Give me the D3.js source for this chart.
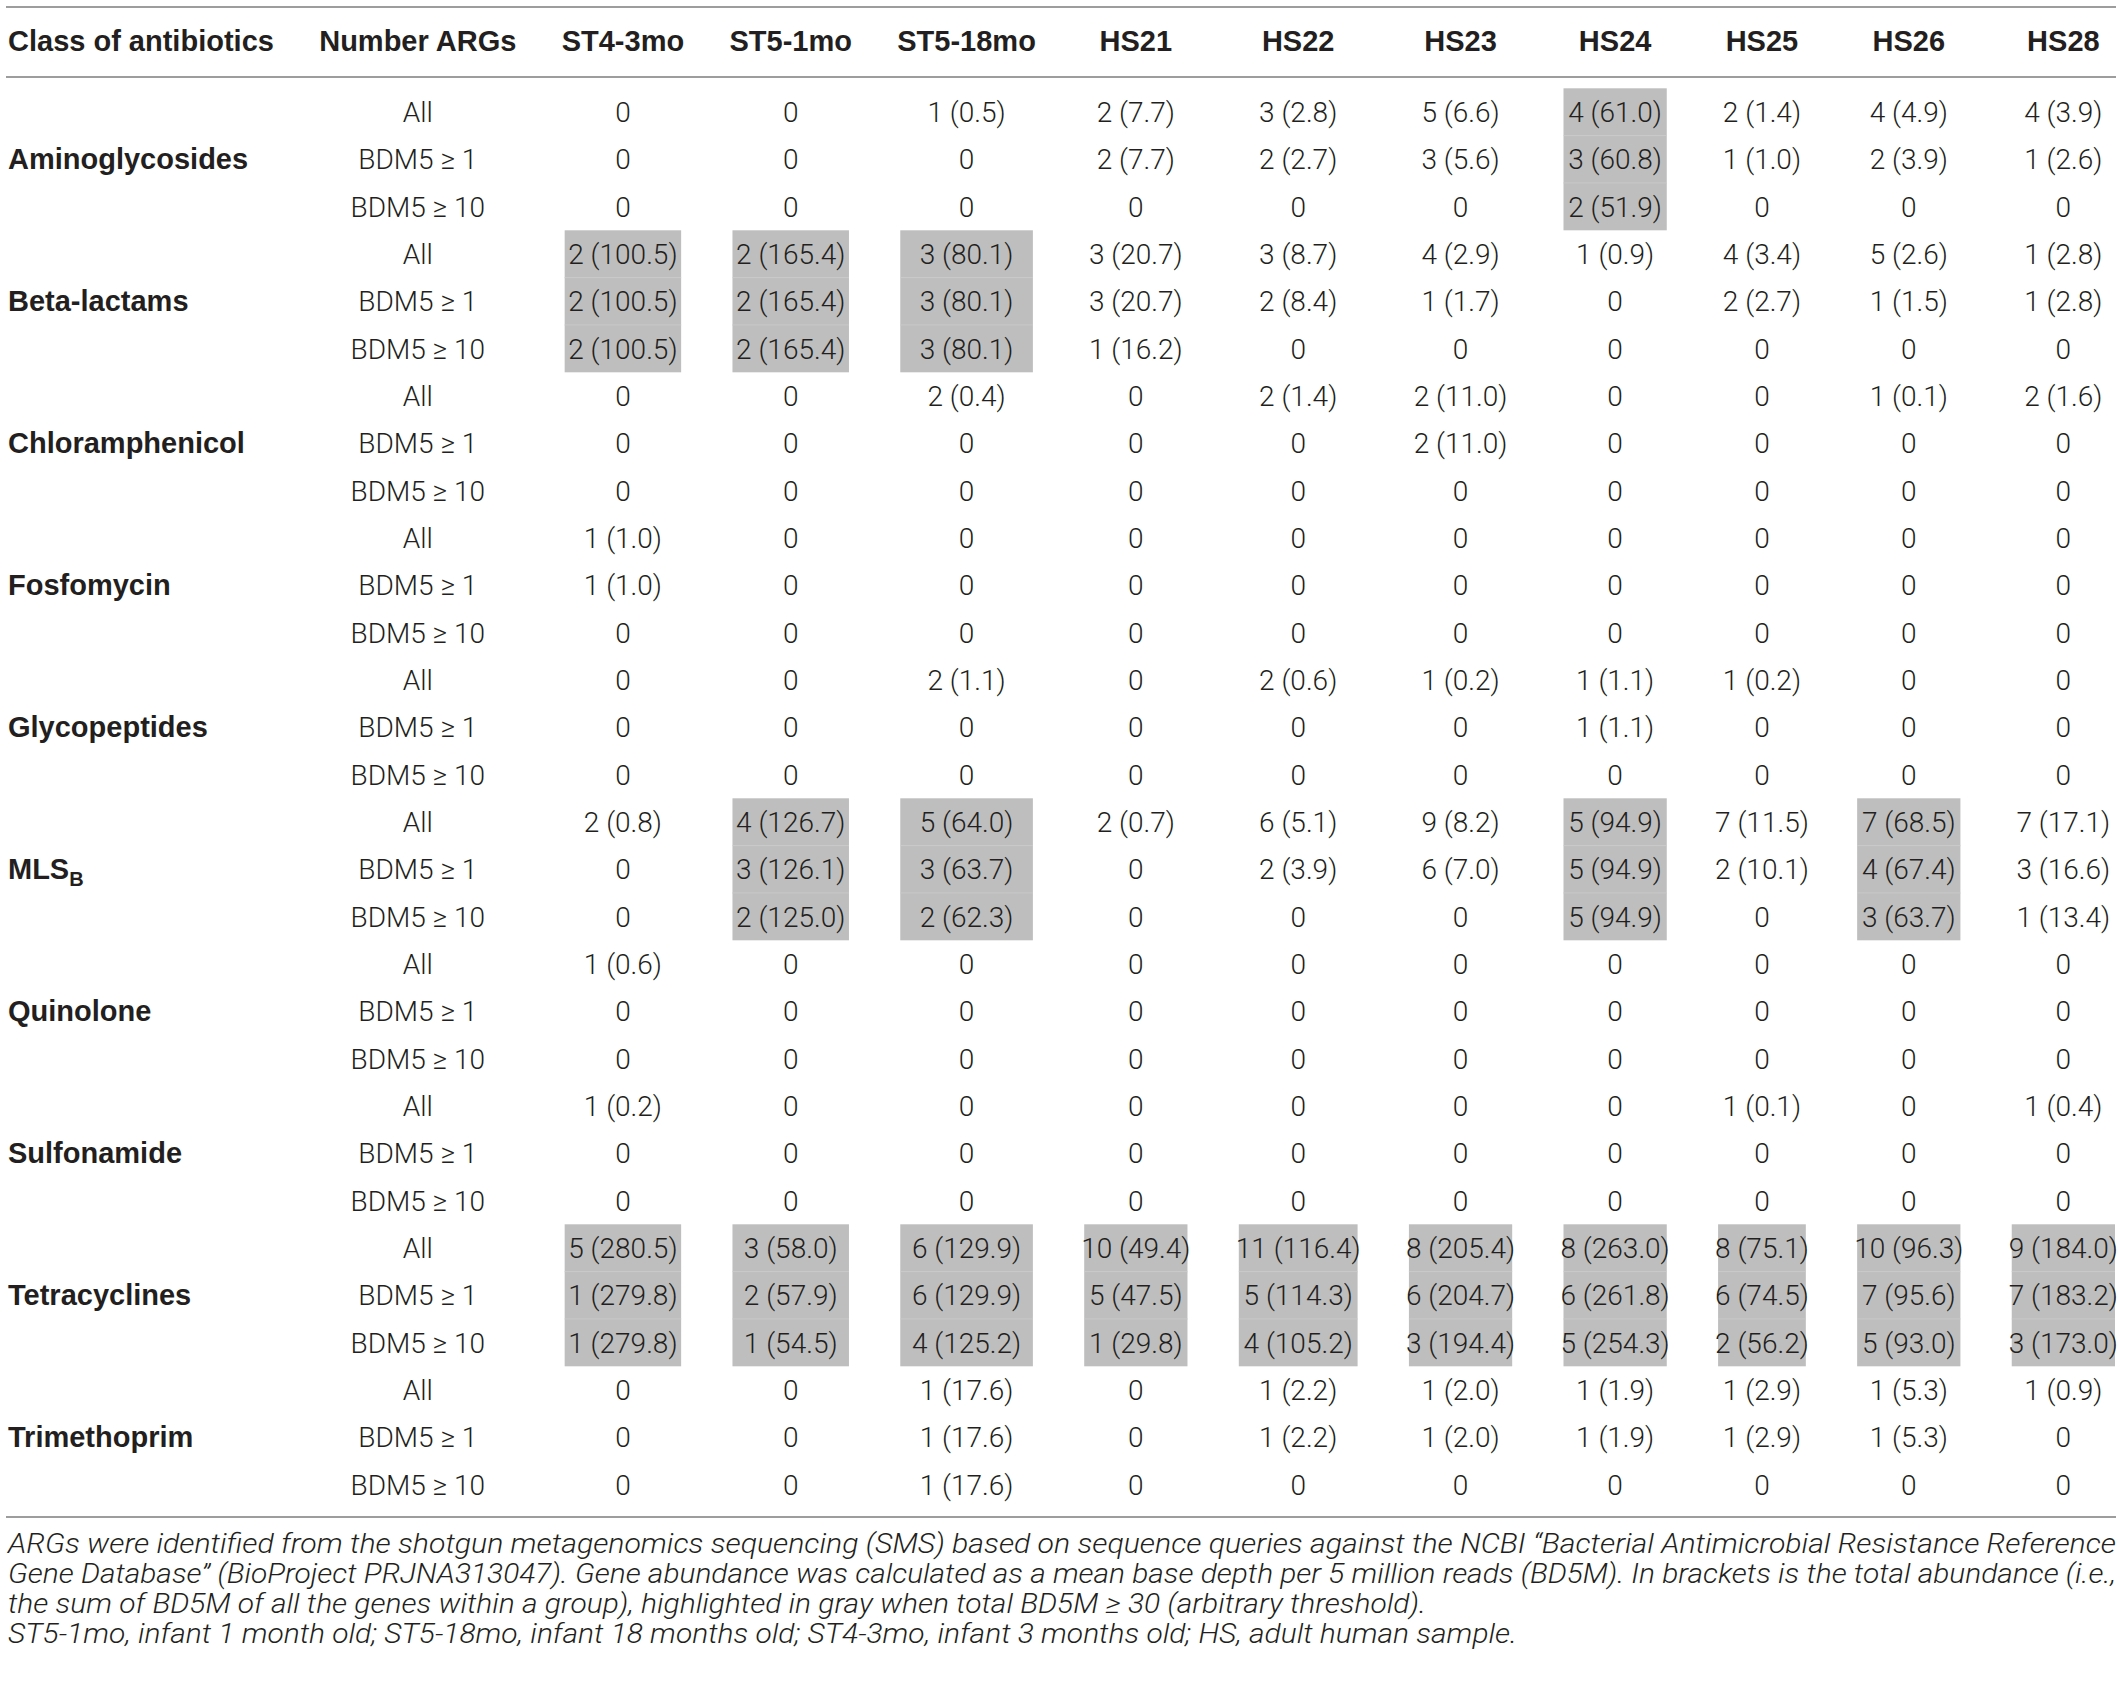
<!DOCTYPE html>
<html>
<head>
<meta charset="utf-8">
<script src="https://cdn.jsdelivr.net/npm/d3@7"></script>
<style>
  body { margin: 0; background: #fff; }
  text { fill: #231f20; }
</style>
</head>
<body>
<div id="my_table"></div>
<script>
var width = 2120,
    height = 1681;

// Data
var samples = ["ST4-3mo", "ST5-1mo", "ST5-18mo", "HS21", "HS22", "HS23", "HS24", "HS25", "HS26", "HS28"];
var classes = ["Aminoglycosides", "Beta-lactams", "Chloramphenicol", "Fosfomycin", "Glycopeptides",
               "MLS", "Quinolone", "Sulfonamide", "Tetracyclines", "Trimethoprim"];
var levels = ["All", "BDM5 \u2265 1", "BDM5 \u2265 10"];
var headers = ["Class of antibiotics", "Number ARGs"];

// number of ARGs, one row per class x level
var counts = [
  [0, 0, 1, 2, 3, 5, 4, 2, 4, 4],
  [0, 0, 0, 2, 2, 3, 3, 1, 2, 1],
  [0, 0, 0, 0, 0, 0, 2, 0, 0, 0],
  [2, 2, 3, 3, 3, 4, 1, 4, 5, 1],
  [2, 2, 3, 3, 2, 1, 0, 2, 1, 1],
  [2, 2, 3, 1, 0, 0, 0, 0, 0, 0],
  [0, 0, 2, 0, 2, 2, 0, 0, 1, 2],
  [0, 0, 0, 0, 0, 2, 0, 0, 0, 0],
  [0, 0, 0, 0, 0, 0, 0, 0, 0, 0],
  [1, 0, 0, 0, 0, 0, 0, 0, 0, 0],
  [1, 0, 0, 0, 0, 0, 0, 0, 0, 0],
  [0, 0, 0, 0, 0, 0, 0, 0, 0, 0],
  [0, 0, 2, 0, 2, 1, 1, 1, 0, 0],
  [0, 0, 0, 0, 0, 0, 1, 0, 0, 0],
  [0, 0, 0, 0, 0, 0, 0, 0, 0, 0],
  [2, 4, 5, 2, 6, 9, 5, 7, 7, 7],
  [0, 3, 3, 0, 2, 6, 5, 2, 4, 3],
  [0, 2, 2, 0, 0, 0, 5, 0, 3, 1],
  [1, 0, 0, 0, 0, 0, 0, 0, 0, 0],
  [0, 0, 0, 0, 0, 0, 0, 0, 0, 0],
  [0, 0, 0, 0, 0, 0, 0, 0, 0, 0],
  [1, 0, 0, 0, 0, 0, 0, 1, 0, 1],
  [0, 0, 0, 0, 0, 0, 0, 0, 0, 0],
  [0, 0, 0, 0, 0, 0, 0, 0, 0, 0],
  [5, 3, 6, 10, 11, 8, 8, 8, 10, 9],
  [1, 2, 6, 5, 5, 6, 6, 6, 7, 7],
  [1, 1, 4, 1, 4, 3, 5, 2, 5, 3],
  [0, 0, 1, 0, 1, 1, 1, 1, 1, 1],
  [0, 0, 1, 0, 1, 1, 1, 1, 1, 0],
  [0, 0, 1, 0, 0, 0, 0, 0, 0, 0]
];

// total abundance (BD5M) in brackets, null where no ARG
var n = null;
var abundance = [
  [n, n, 0.5, 7.7, 2.8, 6.6, 61.0, 1.4, 4.9, 3.9],
  [n, n, n, 7.7, 2.7, 5.6, 60.8, 1.0, 3.9, 2.6],
  [n, n, n, n, n, n, 51.9, n, n, n],
  [100.5, 165.4, 80.1, 20.7, 8.7, 2.9, 0.9, 3.4, 2.6, 2.8],
  [100.5, 165.4, 80.1, 20.7, 8.4, 1.7, n, 2.7, 1.5, 2.8],
  [100.5, 165.4, 80.1, 16.2, n, n, n, n, n, n],
  [n, n, 0.4, n, 1.4, 11.0, n, n, 0.1, 1.6],
  [n, n, n, n, n, 11.0, n, n, n, n],
  [n, n, n, n, n, n, n, n, n, n],
  [1.0, n, n, n, n, n, n, n, n, n],
  [1.0, n, n, n, n, n, n, n, n, n],
  [n, n, n, n, n, n, n, n, n, n],
  [n, n, 1.1, n, 0.6, 0.2, 1.1, 0.2, n, n],
  [n, n, n, n, n, n, 1.1, n, n, n],
  [n, n, n, n, n, n, n, n, n, n],
  [0.8, 126.7, 64.0, 0.7, 5.1, 8.2, 94.9, 11.5, 68.5, 17.1],
  [n, 126.1, 63.7, n, 3.9, 7.0, 94.9, 10.1, 67.4, 16.6],
  [n, 125.0, 62.3, n, n, n, 94.9, n, 63.7, 13.4],
  [0.6, n, n, n, n, n, n, n, n, n],
  [n, n, n, n, n, n, n, n, n, n],
  [n, n, n, n, n, n, n, n, n, n],
  [0.2, n, n, n, n, n, n, 0.1, n, 0.4],
  [n, n, n, n, n, n, n, n, n, n],
  [n, n, n, n, n, n, n, n, n, n],
  [280.5, 58.0, 129.9, 49.4, 116.4, 205.4, 263.0, 75.1, 96.3, 184.0],
  [279.8, 57.9, 129.9, 47.5, 114.3, 204.7, 261.8, 74.5, 95.6, 183.2],
  [279.8, 54.5, 125.2, 29.8, 105.2, 194.4, 254.3, 56.2, 93.0, 173.0],
  [n, n, 17.6, n, 2.2, 2.0, 1.9, 2.9, 5.3, 0.9],
  [n, n, 17.6, n, 2.2, 2.0, 1.9, 2.9, 5.3, n],
  [n, n, 17.6, n, n, n, n, n, n, n]
];

// sample columns shaded gray in each row
var highlighted = [
  [6], [6], [6],
  [0, 1, 2], [0, 1, 2], [0, 1, 2],
  [], [], [],
  [], [], [],
  [], [], [],
  [1, 2, 6, 8], [1, 2, 6, 8], [1, 2, 6, 8],
  [], [], [],
  [], [], [],
  [0, 1, 2, 3, 4, 5, 6, 7, 8, 9], [0, 1, 2, 3, 4, 5, 6, 7, 8, 9], [0, 1, 2, 3, 4, 5, 6, 7, 8, 9],
  [], [], []
];

var notes = [
  "ARGs were identified from the shotgun metagenomics sequencing (SMS) based on sequence queries against the NCBI \u201cBacterial Antimicrobial Resistance Reference",
  "Gene Database\u201d (BioProject PRJNA313047). Gene abundance was calculated as a mean base depth per 5 million reads (BD5M). In brackets is the total abundance (i.e.,",
  "the sum of BD5M of all the genes within a group), highlighted in gray when total BD5M \u2265 30 (arbitrary threshold).",
  "ST5-1mo, infant 1 month old; ST5-18mo, infant 18 months old; ST4-3mo, infant 3 months old; HS, adult human sample."
];

// Fonts
var bodyFont = "Roboto, 'Liberation Sans', sans-serif",
    boldFont = "'Liberation Sans', Arial, sans-serif";
var bodySize = 28,
    boldSize = 29,
    noteSize = 27;

var svg = d3.select("#my_table")
  .append("svg")
  .attr("width", width)
  .attr("height", height);

svg.append("rect").attr("width", width).attr("height", height).attr("fill", "#fff");

function cellText(r, c) {
  return counts[r][c] === 0 ? "0" : counts[r][c] + " (" + abundance[r][c].toFixed(1) + ")";
}

// measuring helper
var probe = svg.append("text").attr("visibility", "hidden");
function measure(str, bold) {
  probe.attr("font-family", bold ? boldFont : bodyFont)
    .attr("font-weight", bold ? 700 : 300)
    .attr("font-size", bold ? boldSize : bodySize)
    .text(str);
  return probe.node().getComputedTextLength();
}

// Column widths like an auto table layout
var rowIdx = d3.range(counts.length);
var colWidths = [
  d3.max(classes.concat(headers[0]), function(s) { return measure(s, true); }),
  Math.max(measure(headers[1], true), d3.max(levels, function(s) { return measure(s, false); }))
];
samples.forEach(function(s, c) {
  colWidths.push(Math.max(measure(s, true),
    d3.max(rowIdx, function(r) { return measure(cellText(r, c), false); })));
});
probe.remove();

var left = 8, right = 2118;
var gap = (right - left - d3.sum(colWidths)) / (colWidths.length - 1);
var colLeft = [], acc = left;
colWidths.forEach(function(w) { colLeft.push(acc); acc += w + gap; });
var colCenter = colLeft.map(function(x, i) { return x + colWidths[i] / 2; });

// Rows
var y = d3.scaleBand()
  .domain(rowIdx)
  .range([88.3, 1508.3]);
var rowH = y.bandwidth();

// Rules
var ruleY = [7, 77, 1517];
svg.append("g")
  .selectAll("line")
  .data(ruleY)
  .enter()
  .append("line")
  .attr("x1", 6).attr("x2", 2116)
  .attr("y1", function(d) { return d; })
  .attr("y2", function(d) { return d; })
  .attr("stroke", "#9d9d9d")
  .attr("stroke-width", 2);

// Gray shading
var shaded = [];
highlighted.forEach(function(cols, r) {
  cols.forEach(function(c) { shaded.push({ r: r, c: c }); });
});
function boxW(d) { return colWidths[d.c + 2] - 6; }
function boxX(d) { return colCenter[d.c + 2] - boxW(d) / 2; }
var shade = svg.append("g");
shade.selectAll("rect")
  .data(shaded)
  .enter()
  .append("rect")
  .attr("x", boxX)
  .attr("width", boxW)
  .attr("y", function(d) { return y(d.r); })
  .attr("height", rowH)
  .attr("fill", "#bebebe");
shade.selectAll("line")
  .data(shaded.filter(function(d) { return d.r > 0 && highlighted[d.r - 1].indexOf(d.c) >= 0; }))
  .enter()
  .append("line")
  .attr("x1", boxX)
  .attr("x2", function(d) { return boxX(d) + boxW(d); })
  .attr("y1", function(d) { return y(d.r); })
  .attr("y2", function(d) { return y(d.r); })
  .attr("stroke", "#c9c9c9")
  .attr("stroke-width", 1);

// Header
var head = svg.append("g")
  .attr("font-family", boldFont)
  .attr("font-weight", 700)
  .attr("font-size", boldSize);
head.selectAll("text")
  .data(headers.concat(samples))
  .enter()
  .append("text")
  .attr("x", function(d, i) { return i === 0 ? colLeft[0] : colCenter[i]; })
  .attr("y", 51)
  .attr("text-anchor", function(d, i) { return i === 0 ? "start" : "middle"; })
  .text(function(d) { return d; });

// Class labels
var classLabels = svg.append("g")
  .attr("font-family", boldFont)
  .attr("font-weight", 700)
  .attr("font-size", boldSize)
  .selectAll("text")
  .data(classes)
  .enter()
  .append("text")
  .attr("x", colLeft[0])
  .attr("y", function(d, i) { return y(i * 3 + 1) + rowH / 2 + 10; })
  .text(function(d) { return d; });
classLabels.filter(function(d) { return d === "MLS"; })
  .append("tspan")
  .attr("font-size", 20)
  .attr("dy", 7)
  .text("B");

// Level labels
svg.append("g")
  .attr("font-family", bodyFont)
  .attr("font-weight", 300)
  .attr("font-size", bodySize)
  .attr("text-anchor", "middle")
  .selectAll("text")
  .data(rowIdx)
  .enter()
  .append("text")
  .attr("x", colCenter[1])
  .attr("y", function(r) { return y(r) + rowH / 2 + 10; })
  .text(function(r) { return levels[r % 3]; });

// Cells
var cells = [];
rowIdx.forEach(function(r) {
  samples.forEach(function(s, c) { cells.push({ r: r, c: c }); });
});
svg.append("g")
  .attr("font-family", bodyFont)
  .attr("font-weight", 300)
  .attr("font-size", bodySize)
  .attr("text-anchor", "middle")
  .selectAll("text")
  .data(cells)
  .enter()
  .append("text")
  .attr("x", function(d) { return colCenter[d.c + 2]; })
  .attr("y", function(d) { return y(d.r) + rowH / 2 + 10; })
  .text(function(d) { return cellText(d.r, d.c); });

// Footnote
var noteG = svg.append("g")
  .attr("font-family", bodyFont)
  .attr("font-weight", 300)
  .attr("font-style", "italic")
  .attr("font-size", noteSize);
var noteText = noteG.selectAll("text")
  .data(notes)
  .enter()
  .append("text")
  .attr("x", left)
  .attr("y", function(d, i) { return 1553 + i * 30; })
  .text(function(d) { return d; });
// first two lines are justified, the others keep a condensed natural width
var natural4 = noteText.nodes()[3].getComputedTextLength();
var squeeze = 1509 / natural4;
noteText.each(function(d, i) {
  var w = i < 2 ? (2116 - left) : this.getComputedTextLength() * squeeze;
  d3.select(this).attr("textLength", w).attr("lengthAdjust", "spacingAndGlyphs");
});
</script>
</body>
</html>
